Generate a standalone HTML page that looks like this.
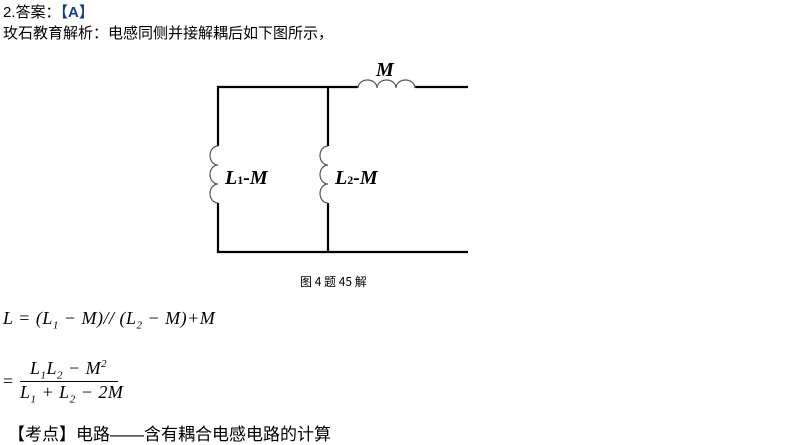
<!DOCTYPE html>
<html><head><meta charset="utf-8"><style>
body{margin:0;width:803px;height:443px;background:#fff;position:relative;overflow:hidden;font-family:"Liberation Sans","Noto Sans CJK SC",sans-serif;color:#000}
.t{position:absolute;white-space:nowrap;font-size:15px}
.m{font-family:"Liberation Serif","Noto Serif CJK SC",serif;font-style:italic;font-size:18px;position:absolute;white-space:nowrap;letter-spacing:0.5px}
</style></head><body>
<div class="t" style="left:3px;top:1px">2.答案：<b style="color:#1a3a8a">【A】</b></div>
<div class="t" style="left:3px;top:22px">玫石教育解析：电感同侧并接解耦后如下图所示，</div>
<svg style="position:absolute;left:0;top:0" width="803" height="443">
<g stroke="#000" stroke-width="2.2" fill="none">
<path d="M218 146 V87 H358 M415 87 H468 M328 87 V146 M328 203 V252 M218 203 V252 H468"/>
</g>
<g stroke="#555" stroke-width="1.2" fill="none">
<path d="M358 88 a9.5 8 0 0 1 19 0 a9.5 8 0 0 1 19 0 a9.5 8 0 0 1 19 0"/>
<path d="M218 146 a8 9.5 0 0 0 0 19 a8 9.5 0 0 0 0 19 a8 9.5 0 0 0 0 19"/>
<path d="M328 146 a8 9.5 0 0 0 0 19 a8 9.5 0 0 0 0 19 a8 9.5 0 0 0 0 19"/>
</g>
<g font-family="Liberation Serif,serif" font-style="italic" font-weight="bold" font-size="20">
<text x="376" y="76">M</text>
<text x="225" y="184">L<tspan font-size="12" font-style="normal">1</tspan>-M</text>
<text x="335" y="184">L<tspan font-size="12" font-style="normal">2</tspan>-M</text>
</g>
<text x="300" y="286" font-size="12" font-family="'Noto Sans CJK SC',sans-serif">图 4 题 45 解</text>
</svg>
<div class="m" style="left:3px;top:308px">L = (L<sub style="font-size:11px">1</sub> − M)// (L<sub style="font-size:11px">2</sub> − M)+M</div>
<div class="m" style="left:3px;top:371px;font-style:normal">=</div>
<div class="m" style="left:30px;top:358px">L<sub style="font-size:11px">1</sub>L<sub style="font-size:11px">2</sub> − M<sup style="font-size:11px">2</sup></div>
<div style="position:absolute;left:20px;top:381px;width:98px;height:1px;background:#000"></div>
<div class="m" style="left:20px;top:382px">L<sub style="font-size:11px">1</sub> + L<sub style="font-size:11px">2</sub> − 2M</div>
<div class="t" style="left:8px;top:420px;font-size:17px">【考点】电路——含有耦合电感电路的计算</div>
</body></html>
